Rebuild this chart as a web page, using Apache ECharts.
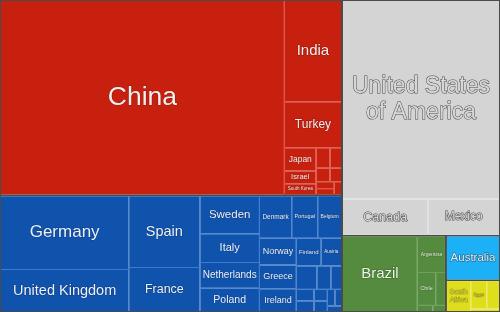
<!DOCTYPE html>
<html>
<head>
<meta charset="utf-8">
<title>Treemap</title>
<script src="https://cdn.jsdelivr.net/npm/echarts@6/dist/echarts.min.js"></script>
<style>
  html, body { margin: 0; padding: 0; background: #4b4b4b; }
  #chart { width: 500px; height: 312px; }
</style>
</head>
<body>
<div id="chart"></div>
<script>
// shares in percent
const asiaCountries = ['China', 'India', 'Turkey', 'Japan', 'Israel', 'South Korea', 'Saudi Arabia', 'Iran', 'Pakistan', 'Thailand', 'Malaysia', 'Indonesia', 'Vietnam'];
const asiaValues = [35.19, 3.69, 1.68, 0.47, 0.26, 0.22, 0.18, 0.15, 0.12, 0.10, 0.08, 0.07, 0.06];

const europeCountries = ['Germany', 'United Kingdom', 'Spain', 'France', 'Sweden', 'Italy', 'Netherlands', 'Poland', 'Denmark', 'Portugal', 'Belgium', 'Norway', 'Greece', 'Ireland', 'Finland', 'Austria', 'Romania', 'Ukraine', 'Czechia', 'Hungary', 'Switzerland', 'Slovakia', 'Bulgaria', 'Croatia', 'Lithuania', 'Serbia'];
const europeValues = [6.07, 3.45, 3.28, 2.00, 1.45, 1.10, 0.98, 0.89, 0.88, 0.71, 0.65, 0.63, 0.56, 0.54, 0.44, 0.36, 0.31, 0.21, 0.16, 0.13, 0.12, 0.10, 0.09, 0.08, 0.07, 0.05];

const northAmericaCountries = ['United States of America', 'Canada', 'Mexico'];
const northAmericaValues = [19.95, 1.98, 1.66];

const southAmericaCountries = ['Brazil', 'Argentina', 'Chile', 'Uruguay', 'Paraguay', 'Peru'];
const southAmericaValues = [3.65, 0.66, 0.39, 0.21, 0.06, 0.05];

const oceaniaCountries = ['Australia'];
const oceaniaValues = [1.52];

const africaCountries = ['South Africa', 'Egypt', 'Morocco', 'Tunisia'];
const africaValues = [0.50, 0.30, 0.24, 0.05];

const regions = [
    { name: 'Asia', countries: asiaCountries, values: asiaValues },
    { name: 'Europe', countries: europeCountries, values: europeValues },
    { name: 'North America', countries: northAmericaCountries, values: northAmericaValues },
    { name: 'South America', countries: southAmericaCountries, values: southAmericaValues },
    { name: 'Oceania', countries: oceaniaCountries, values: oceaniaValues },
    { name: 'Africa', countries: africaCountries, values: africaValues }
];

const regionStyle = {
    'Asia': { color: '#c8200e', line: '#dc4d3a', text: '#f0f0f0', outline: 'rgba(70,10,0,0.35)' },
    'Europe': { color: '#1053ad', line: '#3a7bd0', text: '#eef2f8', outline: 'rgba(0,20,60,0.35)' },
    'North America': { color: '#d4d4d4', line: '#e2e2e2', text: '#d8d8d8', outline: '#4a4a4a' },
    'South America': { color: '#548b3f', line: '#6fa05a', text: '#eef4ea', outline: 'rgba(20,40,10,0.35)' },
    'Oceania': { color: '#1cb0f6', line: '#55c6fa', text: '#d8f2ff', outline: '#2a5a78' },
    'Africa': { color: '#dede1c', line: '#ecec60', text: '#e6e640', outline: '#6a6a18' }
};

const FONT = '"Liberation Sans", Arial, sans-serif';
const ctx = document.createElement('canvas').getContext('2d');
ctx.font = '100px ' + FONT;
const em = s => ctx.measureText(s).width / 100;

// pick a font size (and maybe a line break) so the name fits its box
function fitLabel(name, w, h) {
    const target = Math.min(27, 1.75 * Math.pow(w * h, 0.25));
    const availW = w - 4, availH = h - 2;
    let best = { size: Math.min(target, availW / em(name), availH / 1.15), text: name };
    const words = name.split(' ');
    for (let k = 1; k < words.length; k++) {
        const a = words.slice(0, k).join(' '), b = words.slice(k).join(' ');
        const s = Math.min(target, availW / Math.max(em(a), em(b)), availH / 2.3);
        if (s > best.size + 0.5) best = { size: s, text: a + '\n' + b };
    }
    best.size = Math.floor(best.size * 2) / 2;
    return best;
}

let fits = {};

function buildData() {
    return regions.map(r => {
        const st = regionStyle[r.name];
        return {
            name: r.name,
            itemStyle: { color: st.color, borderColor: st.line, borderWidth: 0, gapWidth: 1 },
            children: r.countries.map((c, i) => {
                const f = fits[c] || { size: 10, text: c };
                return {
                    name: c,
                    value: r.values[i],
                    itemStyle: { color: st.color },
                    label: {
                        show: f.size >= 4,
                        formatter: f.text,
                        fontSize: f.size,
                        lineHeight: Math.round(f.size * 1.15),
                        color: st.text,
                        textBorderColor: st.outline,
                        textBorderWidth: f.size > 11 ? 1 : 0.6
                    }
                };
            })
        };
    });
}

function makeOption() {
    return {
        backgroundColor: '#4b4b4b',
        animation: false,
        series: [{
            type: 'treemap',
            left: 0, top: 0, width: 500, height: 312,
            roam: false,
            nodeClick: false,
            silent: true,
            breadcrumb: { show: false },
            visibleMin: 0,
            label: {
                show: true,
                position: 'inside',
                align: 'center',
                padding: 0,
                overflow: 'none',
                fontFamily: FONT
            },
            upperLabel: { show: false },
            levels: [
                { itemStyle: { borderWidth: 1, borderColor: '#4b4b4b', gapWidth: 2 } },
                { itemStyle: { borderWidth: 0, gapWidth: 1 } },
                { itemStyle: { borderWidth: 0, gapWidth: 0 } }
            ],
            data: buildData()
        }]
    };
}

const chart = echarts.init(document.getElementById('chart'));
chart.setOption(makeOption());

// second pass: size labels from the boxes the layout produced
try {
    const countrySet = new Set(regions.flatMap(r => r.countries));
    const treeData = chart.getModel().getSeriesByIndex(0).getData();
    for (let i = 0; i < treeData.count(); i++) {
        const name = treeData.getName(i);
        const lay = treeData.getItemLayout(i);
        if (!lay || !countrySet.has(name)) continue;
        fits[name] = fitLabel(name, lay.width, lay.height);
    }
    chart.setOption(makeOption(), true);
} catch (e) {
    console.log(e);
}
</script>
</body>
</html>
